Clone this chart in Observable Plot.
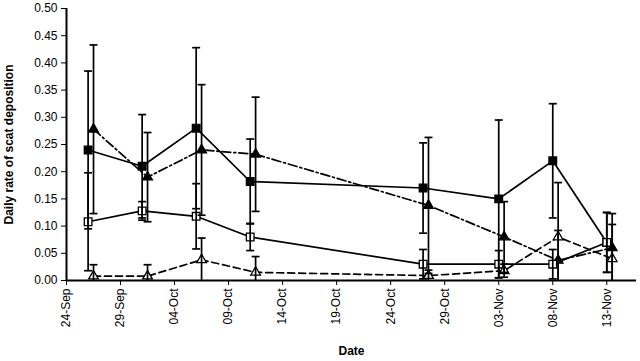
<!DOCTYPE html>
<html>
<head>
<meta charset="utf-8">
<script src="https://cdn.jsdelivr.net/npm/d3@7"></script>
<script src="https://cdn.jsdelivr.net/npm/@observablehq/plot@0.6"></script>
<style>
  html, body { margin: 0; padding: 0; background: #fff; }
</style>
</head>
<body>
<div id="chart"></div>
<script>
// ---- data ----
const xTickDates = ["2008-09-24","2008-09-29","2008-10-04","2008-10-09","2008-10-14","2008-10-19","2008-10-24","2008-10-29","2008-11-03","2008-11-08","2008-11-13"];
const yTickValues = [0, 0.05, 0.10, 0.15, 0.20, 0.25, 0.30, 0.35, 0.40, 0.45, 0.50];

const squareDates = ["2008-09-26T00:00Z","2008-10-01T00:00Z","2008-10-06T00:00Z","2008-10-11T00:00Z","2008-10-27T00:00Z","2008-11-03T00:00Z","2008-11-08T00:00Z","2008-11-13T00:00Z"];
const triangleDates = ["2008-09-26T12:00Z","2008-10-01T12:00Z","2008-10-06T12:00Z","2008-10-11T12:00Z","2008-10-27T12:00Z","2008-11-03T12:00Z","2008-11-08T12:00Z","2008-11-13T12:00Z"];

// filled squares, solid line
const filledSquareValues = [0.240, 0.210, 0.280, 0.182, 0.170, 0.150, 0.220, 0.070];
const filledSquareErrors = [0.145, 0.095, 0.148, 0.078, 0.083, 0.145, 0.105, 0.055];
// filled triangles, dash-dot line
const filledTriangleValues = [0.278, 0.190, 0.240, 0.232, 0.138, 0.080, 0.037, 0.060];
const filledTriangleErrors = [0.155, 0.082, 0.120, 0.105, 0.125, 0.065, 0.055, 0.063];
// open squares, solid line
const openSquareValues = [0.108, 0.128, 0.118, 0.080, 0.030, 0.030, 0.030, 0.070];
const openSquareErrors = [0.090, 0.017, 0.060, 0.025, 0.027, 0.025, 0.027, 0.055];
// open triangles, dashed line
const openTriangleValues = [0.008, 0.008, 0.038, 0.015, 0.009, 0.018, 0.080, 0.040];
const openTriangleErrors = [0.021, 0.021, 0.040, 0.029, 0.010, 0.012, 0.100, 0.063];

const yLabel = "Daily rate of scat deposition";
const xLabel = "Date";

// ---- build table ----
const seriesDefs = [
  {key: "fs", dates: squareDates, values: filledSquareValues, errors: filledSquareErrors, symbol: "square", fill: "black", dash: null},
  {key: "ft", dates: triangleDates, values: filledTriangleValues, errors: filledTriangleErrors, symbol: "triangle", fill: "black", dash: "9,3,2,3"},
  {key: "os", dates: squareDates, values: openSquareValues, errors: openSquareErrors, symbol: "square", fill: "white", dash: null},
  {key: "ot", dates: triangleDates, values: openTriangleValues, errors: openTriangleErrors, symbol: "triangle", fill: "white", dash: "7,4"}
];
function rows(s) {
  return s.values.map((v, i) => ({
    date: new Date(s.dates[i]),
    value: v,
    lo: Math.max(0, v - s.errors[i]),
    hi: v + s.errors[i]
  }));
}

const capSymbol = {
  draw(context, size) {
    const w = Math.sqrt(size) / 2;
    context.moveTo(-w, 0);
    context.lineTo(w, 0);
  }
};

const marks = [];
for (const s of seriesDefs) {
  const data = rows(s);
  marks.push(Plot.line(data, {x: "date", y: "value", stroke: "black", strokeWidth: 1.7, strokeDasharray: s.dash}));
}
for (const s of seriesDefs) {
  const data = rows(s);
  marks.push(Plot.dot(data, {x: "date", y: "value", symbol: s.symbol, r: s.symbol === "square" ? 4.3 : 3.6, fill: s.fill, stroke: "black", strokeWidth: 1.3}));
}
for (const s of seriesDefs) {
  const data = rows(s);
  marks.push(Plot.ruleX(data, {x: "date", y1: "lo", y2: "hi", stroke: "black", strokeWidth: 1.7}));
  marks.push(Plot.dot(data.filter(d => d.lo > 0), {x: "date", y: "lo", symbol: capSymbol, r: 4.5, stroke: "black", strokeWidth: 1.7}));
  marks.push(Plot.dot(data, {x: "date", y: "hi", symbol: capSymbol, r: 4.5, stroke: "black", strokeWidth: 1.7}));
}

const xStart = new Date(xTickDates[0]);
const xEnd = new Date("2008-11-15T18:00Z");

const chart = Plot.plot({
  width: 640,
  height: 361,
  marginLeft: 66,
  marginRight: 4,
  marginTop: 8,
  marginBottom: 81,
  style: {fontFamily: "'Liberation Sans', Arial, sans-serif", fontSize: "12px", background: "white", color: "black"},
  x: {type: "utc", domain: [xStart, xEnd]},
  y: {domain: [0, 0.5]},
  marks: [
    Plot.axisY({ticks: yTickValues, tickFormat: d3.format(".2f"), tickSize: 5, tickPadding: 4, label: null, fontSize: 12}),
    Plot.axisX({ticks: xTickDates.map(d => new Date(d)), tickFormat: d3.utcFormat("%d-%b"), tickRotate: -90, tickSize: 5, tickPadding: 3, label: null, fontSize: 12}),
    Plot.ruleY([0], {x1: xStart, x2: xEnd, stroke: "black", strokeWidth: 2}),
    Plot.ruleX([xStart], {y1: 0, y2: 0.5, stroke: "black", strokeWidth: 2}),
    ...marks,
    Plot.text([xLabel], {frameAnchor: "bottom", dy: 74, fontWeight: "bold", fontSize: 12}),
    Plot.text([yLabel], {frameAnchor: "left", textAnchor: "middle", dx: -57, rotate: -90, fontWeight: "bold", fontSize: 12})
  ]
});
document.getElementById("chart").appendChild(chart);
</script>
</body>
</html>
